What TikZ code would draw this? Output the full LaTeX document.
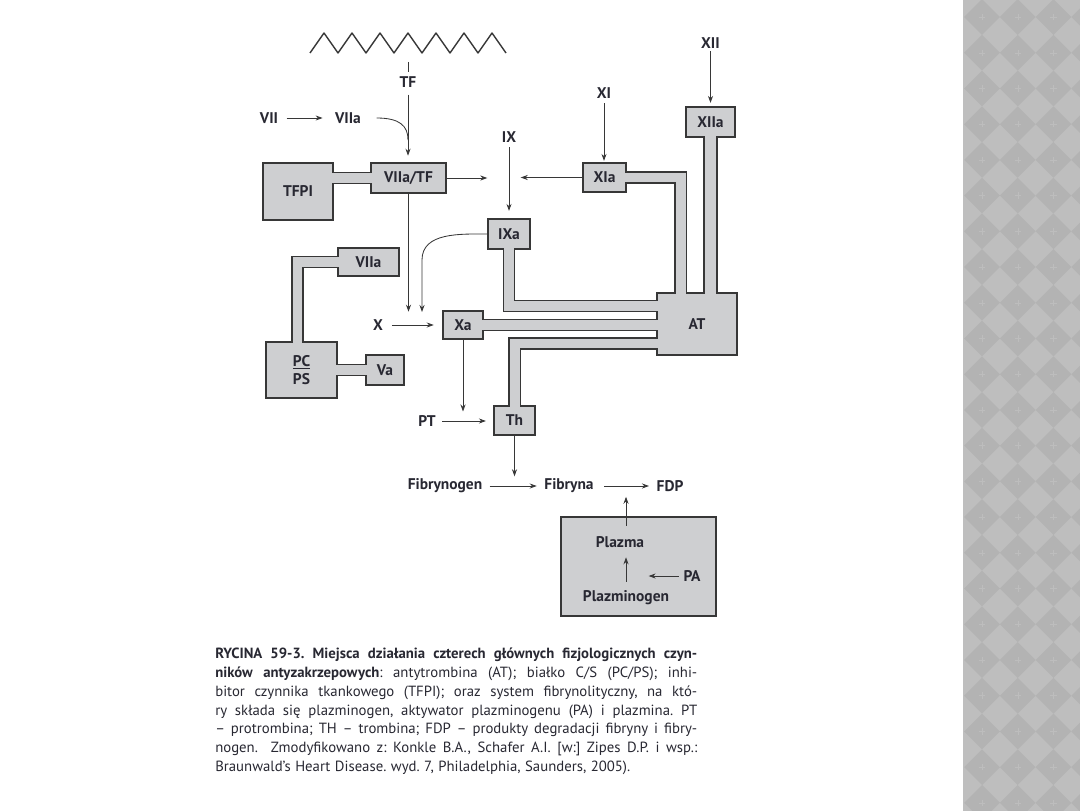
\documentclass[tikz,border=0pt]{standalone}
\usepackage{fontspec}
\setmainfont{PT Sans}
\usepackage{xcolor}
\definecolor{boxgray}{RGB}{206,207,209}
\definecolor{linegray}{RGB}{55,55,55}
\definecolor{txtgray}{RGB}{40,40,50}
\definecolor{stripgray}{RGB}{190,190,190}
\definecolor{diamgray}{RGB}{179,179,179}
\definecolor{crossgray}{RGB}{189,189,189}
\usepackage{tikz}
\usetikzlibrary{arrows.meta, calc}
\frenchspacing

\begin{document}
\begin{tikzpicture}[
  box/.style={draw=linegray, fill=boxgray, line width=0.9pt, inner sep=0pt, outer sep=-0.5pt,
    font=\fontsize{11}{13}\selectfont\bfseries, text=txtgray},
  lbl/.style={font=\fontsize{11}{13}\selectfont\bfseries, text=txtgray, inner sep=1pt},
  band/.style={draw=linegray, line width=0.9pt, double=boxgray, double distance=7.1pt, line join=miter},
  arr/.style={draw=linegray, line width=0.6pt, -{Stealth[length=5pt, width=3.6pt]}},
  ln/.style={draw=linegray, line width=0.6pt}
]
  \useasboundingbox (0,0) rectangle (27,20.25);

  % Slide strip on the right
  \fill[stripgray] (24.075,-1) rectangle (27.5,21.25);
  \foreach \i in {0,...,3}
    \foreach \j in {-1,...,24} {
      \fill[diamgray] (24.55+0.893*\i,19.825-0.893*\j) +(-0.4465,0) -- +(0,0.4465) -- +(0.4465,0) -- +(0,-0.4465) -- cycle;
      \draw[crossgray, line width=0.3pt] (24.55+0.893*\i,19.825-0.893*\j) +(-0.08,0) -- +(0.08,0) +(0,-0.08) -- +(0,0.08);
    }

  % Vessel wall
  \draw[linegray, line width=1pt, line join=round] (7.75,18.925) \foreach \k in {1,...,7} { -- ++(0.35,0.5) -- ++(0.35,-0.5) };
  \draw[ln] (10.2,18.7) -- (10.2,18.45);

  % Boxes
  \node[box, minimum width=1.875cm, minimum height=0.75cm] (VIIaTF) at (10.2125,15.8) {VIIa/TF};
  \node[box, minimum width=1.75cm, minimum height=1.425cm] (TFPI) at (7.45,15.4625) {TFPI};
  \node[box, minimum width=1.05cm, minimum height=0.75cm] (IXa) at (12.725,14.4) {IXa};
  \node[box, minimum width=1.075cm, minimum height=0.725cm] (XIa) at (15.1125,15.8125) {XIa};
  \node[box, minimum width=1.225cm, minimum height=0.75cm] (XIIa) at (17.7625,17.2) {XIIa};
  \node[box, minimum width=2cm, minimum height=1.55cm] (AT) at (17.425,12.15) {AT};
  \node[box, minimum width=1cm, minimum height=0.7cm] (Xa) at (11.575,12.125) {Xa};
  \node[box, minimum width=1.025cm, minimum height=0.725cm] (Th) at (12.8625,9.7375) {Th};
  \node[box, minimum width=1.525cm, minimum height=0.7cm] (VIIaL) at (9.2125,13.7) {VIIa};
  \node[box, minimum width=1.775cm, minimum height=1.4cm, align=center] (PCPS) at (7.5375,11.0) {\underline{PC}\\PS};
  \node[box, minimum width=0.95cm, minimum height=0.75cm] (Va) at (9.625,11.0) {Va};
  \node[box, minimum width=3.875cm, minimum height=2.475cm] (plasma) at (15.9625,6.0875) {};

  % Inhibitor bands
  \draw[band] (VIIaTF.west) -- (VIIaTF.west -| TFPI.east);
  \draw[band] (VIIaL.west) -| ([xshift=-0.1cm]PCPS.north);
  \draw[band] (PCPS.east) -- (Va.west);
  \draw[band, double distance=8.3pt] (XIIa.south) -- (XIIa.south |- AT.north);
  \draw[band] (XIa.east) -| ([xshift=-0.4125cm]AT.north);
  \draw[band] (IXa.south) |- ([yshift=0.45cm]AT.west);
  \draw[band] (Xa.east) -- (Xa.east -| AT.west);
  \draw[band] (Th.north) |- ([yshift=-0.4875cm]AT.west);

  % Factors
  \node[lbl] (TF) at (10.2,18.2) {TF};
  \node[lbl] (VII) at (6.725,17.3) {VII};
  \node[lbl] (VIIa) at (8.7,17.3) {VIIa};
  \node[lbl] (IX) at (12.725,16.825) {IX};
  \node[lbl] (XI) at (15.1,17.925) {XI};
  \node[lbl] (XII) at (17.7625,19.175) {XII};
  \node[lbl] (X) at (9.45,12.125) {X};
  \node[lbl] (PT) at (10.675,9.725) {PT};
  \node[lbl] (Fibrynogen) at (11.125,8.1) {Fibrynogen};
  \node[lbl] (Fibryna) at (14.225,8.1) {Fibryna};
  \node[lbl] (FDP) at (16.75,8.1) {FDP};
  \node[lbl] (Plazma) at (15.5,6.7) {Plazma};
  \node[lbl] (Plazminogen) at (15.65,5.3) {Plazminogen};
  \node[lbl] (PA) at (17.3,5.85) {PA};

  % Activation arrows
  \draw[arr, shorten <=0.14cm, shorten >=0.2cm] (TF.south) -- (TF.south |- VIIaTF.north);
  \draw[arr, shorten <=0.17cm, shorten >=0.27cm] (VII.east) -- (VIIa.west);
  \draw[ln] ([xshift=0.35cm]VIIa.east) .. controls (10.0,17.3) and (10.2,17.1) .. (10.2,16.75);
  \draw[arr] (VIIaTF.east) -- ++(1.05,0);
  \draw[arr] (XIa.west) -- ++(-1.575,0);
  \draw[arr, shorten <=0.08cm, shorten >=0.22cm] (IX.south) -- (IXa.north);
  \draw[arr, shorten <=0.08cm, shorten >=0.07cm] (XI.south) -- (XI.south |- XIa.north);
  \draw[arr, shorten <=0.03cm, shorten >=0.12cm] (XII.south) -- (XIIa.north);
  \draw[arr] (VIIaTF.south) -- (VIIaTF.south |- Xa.north);
  \draw[arr] (IXa.west) to[out=180, in=90] (10.55,13.75) -- (10.55,12.45);
  \draw[arr, shorten <=0.18cm, shorten >=0.25cm] (X.east) -- (Xa.west);
  \draw[arr] (Xa.south) -- ++(0,-1.83);
  \draw[arr, shorten <=0.12cm, shorten >=0.22cm] (PT.east) -- (PT.east -| Th.west);
  \draw[arr] (Th.south) -- ++(0,-1.05);
  \draw[arr, shorten <=0.14cm, shorten >=0.15cm] (Fibrynogen.east) -- (Fibryna.west);
  \draw[arr, shorten <=0.22cm, shorten >=0.15cm] (Fibryna.east) -- (FDP.west);
  \draw[arr, shorten <=0.22cm, shorten >=0.05cm] (Plazminogen.north |- Plazma.north) -- (Plazminogen.north |- Fibryna.south);
  \draw[arr, shorten <=0.18cm, shorten >=0.2cm] (Plazminogen.north) -- (Plazminogen.north |- Plazma.south);
  \draw[arr] ([xshift=-0.08cm]PA.west) -- ++(-0.75,0);

  % Caption
  \node[anchor=north west, inner sep=0pt, text width=12.05cm, align=justify, text=txtgray,
    font=\fontsize{10.5}{13.3}\selectfont] (caption) at (5.375,4.05) {%
    \spaceskip=0.3em plus 0.3em minus 0.1em\relax
    \textbf{RYCINA 59-3. Miejsca działania czterech głównych fizjologicznych czyn-\linebreak
    ników antyzakrzepowych}: antytrombina (AT); białko C/S (PC/PS); inhi-\linebreak
    bitor czynnika tkankowego (TFPI); oraz system fibrynolityczny, na któ-\linebreak
    ry składa się plazminogen, aktywator plazminogenu (PA) i plazmina. PT\linebreak
    – protrombina; TH – trombina; FDP – produkty degradacji fibryny i fibry-\linebreak
    nogen.\ \ Zmodyfikowano z: Konkle B.A., Schafer A.I. [w:] Zipes D.P. i wsp.:\linebreak
    Braunwald’s Heart Disease. wyd. 7, Philadelphia, Saunders, 2005).};
\end{tikzpicture}
\end{document}
